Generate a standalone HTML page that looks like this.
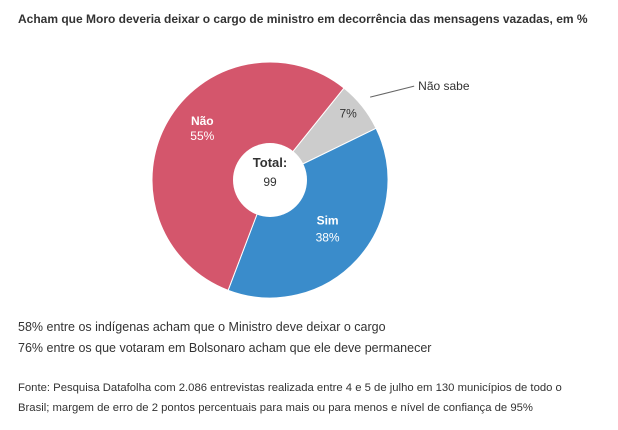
<!DOCTYPE html>
<html><head><meta charset="utf-8"><style>
body{margin:0;background:#fff;width:618px;height:430px;overflow:hidden;font-family:"Liberation Sans",sans-serif;color:#333}
.t{position:absolute;white-space:nowrap}
</style></head><body>
<div class="t" style="left:18px;top:12px;font-size:12px;font-weight:bold;color:#333">Acham que Moro deveria deixar o cargo de ministro em decorrência das mensagens vazadas, em %</div>
<svg id="c" width="618" height="320" style="position:absolute;left:0;top:0"></svg>
<div class="t" style="left:18px;top:320px;font-size:12.5px">58% entre os indígenas acham que o Ministro deve deixar o cargo</div>
<div class="t" style="left:18px;top:341px;font-size:12.5px">76% entre os que votaram em Bolsonaro acham que ele deve permanecer</div>
<div class="t" style="left:18px;top:378px;font-size:11.3px;line-height:20px;white-space:normal;width:575px">Fonte: Pesquisa Datafolha com 2.086 entrevistas realizada entre 4 e 5 de julho em 130 municípios de todo o Brasil; margem de erro de 2 pontos percentuais para mais ou para menos e nível de confiança de 95%</div>
<script>
const categories=["Não sabe","Sim","Não"];
const values=[7,38,55];
const colors=["#cccccc","#3a8ccb","#d4566c"];
const total=99;
const svg=document.getElementById('c');
const NS="http://www.w3.org/2000/svg";
const cx=270,cy=180,r=118,start=38.8;
const sum=values.reduce((a,b)=>a+b,0);
function pt(a,rr){const t=a*Math.PI/180;return [cx+rr*Math.sin(t),cy-rr*Math.cos(t)];}
const offs=[[0,0],[-8,9],[-16,-1]];
let a=start;
values.forEach((v,i)=>{
 const sw=v/sum*360,a2=a+sw;
 const p1=pt(a,r),p2=pt(a2,r);
 const p=document.createElementNS(NS,'path');
 p.setAttribute('d',`M${cx},${cy}L${p1[0]},${p1[1]}A${r},${r} 0 ${sw>180?1:0} 1 ${p2[0]},${p2[1]}Z`);
 p.setAttribute('fill',colors[i]);p.setAttribute('stroke','#fff');p.setAttribute('stroke-width','1');
 
 
 svg.appendChild(p);
 const mid=a+sw/2;
 const lp=pt(mid,i===0?100:78);
 const tx=(s,y,bold,fill,name)=>{const e=document.createElementNS(NS,'text');e.setAttribute('x',lp[0]);e.setAttribute('y',y);e.setAttribute('text-anchor','middle');e.setAttribute('font-size','12');e.setAttribute('fill',fill);if(bold)e.setAttribute('font-weight','bold');e.textContent=s;
 
 
 svg.appendChild(e);};
 if(i===0){tx(v+'%',lp[1],false,'#333','label-value-nao-sabe');}
 else{tx(categories[i],lp[1]+offs[i][0],true,'#fff','label-'+categories[i].toLowerCase().replace(/[^a-z]+/g,'-'));tx(v+'%',lp[1]+offs[i][1],false,'#fff','value-'+categories[i].toLowerCase().replace(/[^a-z]+/g,'-'));}
 if(i===0){
  const q=pt(mid-1,r+12);
  const l=document.createElementNS(NS,'polyline');
  l.setAttribute('points',`${q[0]},${q[1]} ${q[0]+44},${q[1]-11}`);l.setAttribute('stroke','#666');l.setAttribute('fill','none');
  
  
  svg.appendChild(l);
  const e=document.createElementNS(NS,'text');e.setAttribute('x',q[0]+48);e.setAttribute('y',q[1]-7);e.setAttribute('font-size','12');e.setAttribute('fill','#333');e.textContent=categories[i];
  
  
  svg.appendChild(e);
 }
 a=a2;
});
const c=document.createElementNS(NS,'circle');c.setAttribute('cx',cx);c.setAttribute('cy',cy);c.setAttribute('r',37);c.setAttribute('fill','#fff');


svg.appendChild(c);
[["Total:",cy-13,true,13,'total-label'],[String(total),cy+6,false,12,'total-value']].forEach(d=>{
 const e=document.createElementNS(NS,'text');e.setAttribute('x',cx);e.setAttribute('y',d[1]);e.setAttribute('text-anchor','middle');e.setAttribute('font-size',d[3]);e.setAttribute('fill','#333');if(d[2])e.setAttribute('font-weight','bold');e.textContent=d[0];
 
 
 svg.appendChild(e);
});
</script>
</body></html>
